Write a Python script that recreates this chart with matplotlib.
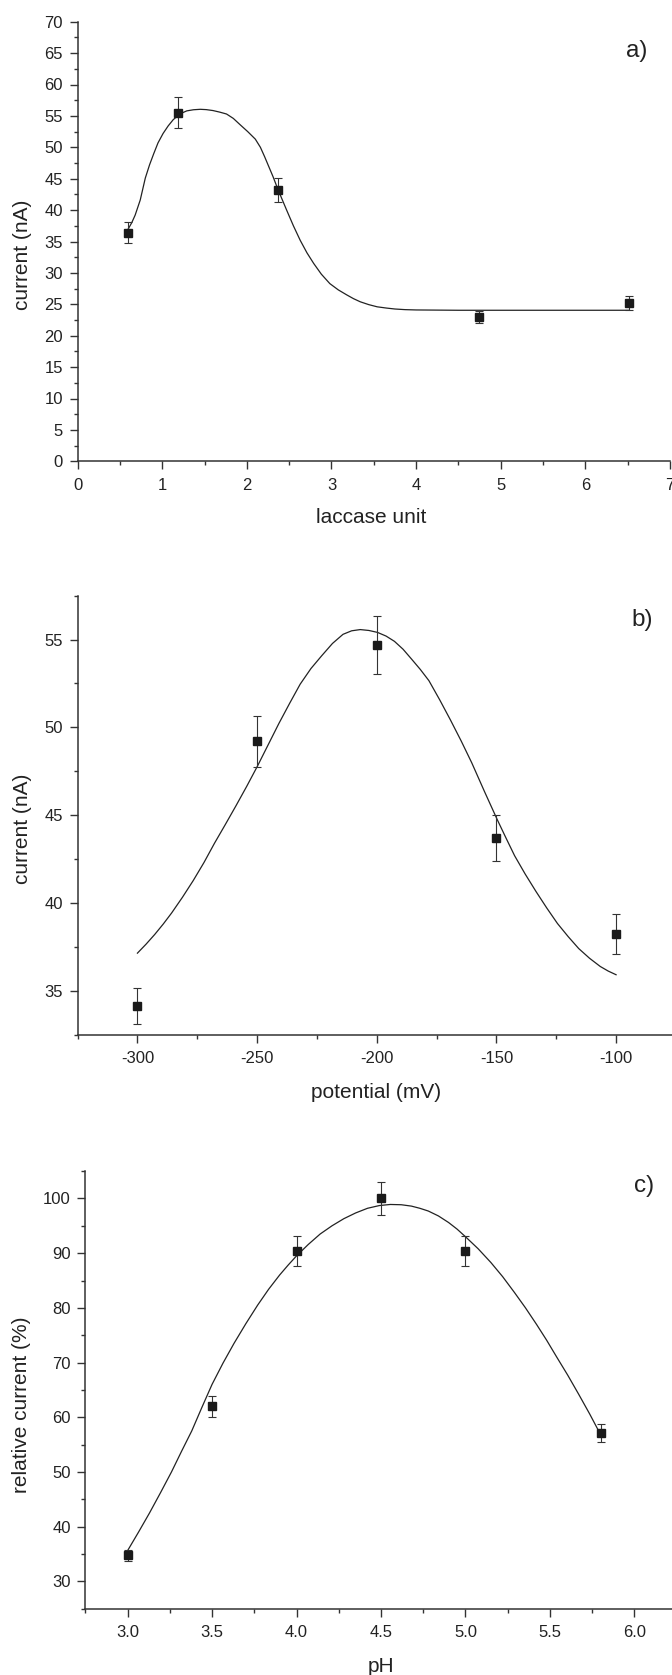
"""
Three stacked panels: laccase loading, applied potential and pH optimisation
of the biosensor current (mean ± error, with the fitted trend line).
"""

import matplotlib
matplotlib.use("Agg")
import matplotlib.pyplot as plt
from matplotlib.ticker import MultipleLocator, FormatStrFormatter

plt.rcParams["font.family"] = ["Liberation Sans", "DejaVu Sans"]
plt.rcParams["axes.unicode_minus"] = False

# ---------------------------------------------------------------------------
# Data
# ---------------------------------------------------------------------------

# a) laccase units
laccase_units = [0.59, 1.19, 2.37, 4.74, 6.52]
laccase_current = [36.4, 55.5, 43.15, 22.95, 25.25]
laccase_err = [1.65, 2.45, 1.9, 1.0, 1.14]

laccase_fit_x = [0.59, 0.64, 0.68, 0.74, 0.80, 0.85, 0.90, 0.95, 1.01, 1.07,
                 1.13, 1.19, 1.24, 1.29, 1.37, 1.45, 1.52, 1.60, 1.68, 1.76,
                 1.84, 1.92, 2.01, 2.10, 2.16, 2.21, 2.26, 2.31, 2.37, 2.42,
                 2.47, 2.55, 2.63, 2.71, 2.79, 2.88, 2.98, 3.08, 3.18, 3.26,
                 3.34, 3.44, 3.54, 3.65, 3.75, 3.87, 4.0, 4.5, 5.0, 5.5,
                 6.0, 6.52]
laccase_fit_y = [36.8, 38.0, 39.2, 41.6, 45.1, 47.2, 49.0, 50.7, 52.2, 53.4,
                 54.4, 55.1, 55.5, 55.8, 55.98, 56.05, 56.0, 55.85, 55.6, 55.3,
                 54.6, 53.6, 52.5, 51.3, 50.0, 48.5, 46.9, 45.3, 43.2, 41.6,
                 40.0, 37.5, 35.2, 33.2, 31.5, 29.8, 28.3, 27.3, 26.5, 25.9,
                 25.4, 24.95, 24.6, 24.4, 24.25, 24.15, 24.1, 24.05, 24.05, 24.05,
                 24.05, 24.05]

# b) applied potential
potential_mv = [-300, -250, -200, -150, -100]
potential_current = [34.13, 49.2, 54.67, 43.7, 38.24]
potential_err = [1.03, 1.47, 1.65, 1.32, 1.15]

potential_fit_x = [-300, -296.4, -292.8, -289.2, -285.7, -281.2, -276.7,
                   -272.2, -267.8, -263.3, -258.8, -254.3, -249.9, -245.4,
                   -240.9, -236.4, -232.0, -227.5, -223.0, -218.5, -214.1,
                   -210.5, -206.9, -203.3, -199.7, -196.1, -192.6, -189.0,
                   -185.4, -181.8, -178.2, -173.7, -169.2, -164.7, -160.3,
                   -155.0, -149.6, -146.0, -142.4, -138.0, -133.5, -129.0,
                   -124.5, -120.0, -115.6, -111.1, -106.6, -103.3, -100]
potential_fit_y = [37.14, 37.65, 38.2, 38.8, 39.43, 40.32, 41.27, 42.3,
                   43.4, 44.46, 45.54, 46.65, 47.78, 49.0, 50.22, 51.37,
                   52.46, 53.35, 54.08, 54.78, 55.3, 55.5, 55.57, 55.52,
                   55.41, 55.2, 54.9, 54.45, 53.88, 53.3, 52.66, 51.57,
                   50.42, 49.22, 47.98, 46.35, 44.73, 43.7, 42.69, 41.65,
                   40.66, 39.72, 38.83, 38.08, 37.4, 36.85, 36.38, 36.12, 35.91]

# c) pH
ph_values = [3.0, 3.5, 4.0, 4.5, 5.0, 5.8]
ph_relative = [34.8, 62.0, 90.4, 100.0, 90.4, 57.1]
ph_err = [1.0, 1.9, 2.8, 3.0, 2.8, 1.7]

ph_fit_x = [3.0, 3.065, 3.13, 3.195, 3.26, 3.32, 3.38, 3.44, 3.5, 3.565,
            3.63, 3.70, 3.77, 3.835, 3.9, 3.95, 4.0, 4.07, 4.14, 4.21, 4.28,
            4.35, 4.42, 4.49, 4.555, 4.62, 4.68, 4.73, 4.78, 4.84, 4.9, 4.95,
            5.0, 5.075, 5.15, 5.22, 5.29, 5.355, 5.42, 5.48, 5.54, 5.605,
            5.67, 5.735, 5.8]
ph_fit_y = [35.6, 39.0, 42.5, 46.2, 50.0, 53.8, 57.5, 61.8, 66.0, 69.9,
            73.5, 77.1, 80.5, 83.4, 86.0, 87.8, 89.5, 91.6, 93.5, 95.0, 96.3,
            97.35, 98.2, 98.7, 98.9, 98.85, 98.6, 98.2, 97.7, 96.8, 95.6, 94.4,
            93.0, 90.8, 88.3, 85.7, 82.8, 80.0, 77.0, 74.1, 71.0, 67.7,
            64.2, 60.6, 56.8]

# ---------------------------------------------------------------------------
# Layout (pixel boxes of the original figure)
# ---------------------------------------------------------------------------

W, H = 672, 1675
INK = "#222222"

fig = plt.figure(figsize=(W / 100, H / 100), dpi=100)


def _axes_px(left, top, right, bottom):
    return fig.add_axes([left / W, 1 - bottom / H, (right - left) / W, (bottom - top) / H])


def _style(ax, xmaj, xmin, ymaj, ymin):
    for side in ("top", "right"):
        ax.spines[side].set_visible(False)
    for side in ("left", "bottom"):
        ax.spines[side].set_linewidth(1.1)
        ax.spines[side].set_color("#333333")
    ax.xaxis.set_major_locator(MultipleLocator(xmaj))
    ax.xaxis.set_minor_locator(MultipleLocator(xmin))
    ax.yaxis.set_major_locator(MultipleLocator(ymaj))
    ax.yaxis.set_minor_locator(MultipleLocator(ymin))
    ax.tick_params(which="major", length=5.5, width=1.0, color="#333333",
                   labelsize=12, labelcolor=INK, direction="out")
    ax.tick_params(which="minor", length=3.0, width=1.0, color="#333333", direction="out")
    ax.tick_params(axis="x", which="major", pad=6.5)
    ax.tick_params(axis="y", which="major", pad=5)


def _draw(ax, x, y, err, fx, fy):
    ax.plot(fx, fy, color="#222222", lw=0.9, zorder=2, solid_joinstyle="round")
    ax.errorbar(x, y, yerr=err, fmt="s", ms=6, color="#1a1a1a", ecolor="#333333",
                elinewidth=0.8, capsize=3.2, capthick=0.8, zorder=3, clip_on=False)


def _labels(ax, xlabel, ylabel, xlab_px, ylab_px):
    ax.set_xlabel(xlabel, fontsize=15, color=INK)
    ax.set_ylabel(ylabel, fontsize=15, color=INK)
    ax.xaxis.set_label_coords(xlab_px[0] / W, 1 - xlab_px[1] / H, transform=fig.transFigure)
    ax.yaxis.set_label_coords(ylab_px[0] / W, 1 - ylab_px[1] / H, transform=fig.transFigure)


# a) ------------------------------------------------------------------------
ax_a = _axes_px(77.6, 21.7, 670.0, 461.3)
_draw(ax_a, laccase_units, laccase_current, laccase_err, laccase_fit_x, laccase_fit_y)
ax_a.set_xlim(0, 7)
ax_a.set_ylim(0, 70)
_style(ax_a, 1, 0.5, 5, 2.5)
_labels(ax_a, "laccase unit", "current (nA)", (371, 508), (32.5, 255))
fig.text(647 / W, 1 - 51 / H, "a)", fontsize=17.5, color=INK, ha="right", va="center")

# b) ------------------------------------------------------------------------
ax_b = _axes_px(77.6, 595.7, 675.9, 1034.6)
_draw(ax_b, potential_mv, potential_current, potential_err, potential_fit_x, potential_fit_y)
ax_b.set_xlim(-325, -75)
ax_b.set_ylim(32.5, 57.5)
_style(ax_b, 50, 25, 5, 2.5)
_labels(ax_b, "potential (mV)", "current (nA)", (376.5, 1083), (32.5, 829))
fig.text(653 / W, 1 - 620 / H, "b)", fontsize=17.5, color=INK, ha="right", va="center")

# c) ------------------------------------------------------------------------
ax_c = _axes_px(85.3, 1171.1, 676.7, 1608.7)
_draw(ax_c, ph_values, ph_relative, ph_err, ph_fit_x, ph_fit_y)
ax_c.set_xlim(2.75, 6.25)
ax_c.set_ylim(25, 105)
_style(ax_c, 0.5, 0.25, 10, 5)
ax_c.xaxis.set_major_formatter(FormatStrFormatter("%.1f"))
_labels(ax_c, "pH", "relative current (%)", (381, 1657), (31.5, 1404.5))
fig.text(654 / W, 1 - 1186 / H, "c)", fontsize=17.5, color=INK, ha="right", va="center")

fig.savefig("out.png", dpi=100, facecolor="white")
plt.close(fig)
